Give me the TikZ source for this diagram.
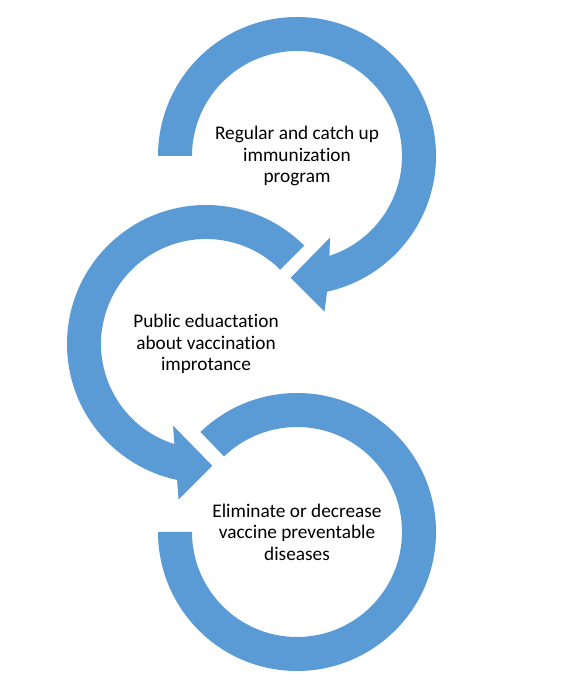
\documentclass[tikz,border=0pt]{standalone}
\usepackage{fontspec}
\setmainfont{Carlito}[Ligatures=NoCommon]
\usepackage{tikz}
\usetikzlibrary{calc}
\definecolor{ringblue}{HTML}{5B9BD5}
\tikzset{
  ring/.style={fill=ringblue, draw=none},
  ringtext/.style={font=\fontsize{19.3}{21.5}\selectfont, align=center, text=black}
}

\begin{document}
\begin{tikzpicture}[x=1pt,y=1pt]
    \useasboundingbox (0,0) rectangle (576,674);

    % Circle 1
    \coordinate (c1) at (297,518);
    \fill[ring] ($(c1)+(180:139)$) arc[start angle=180, end angle=-77.5, radius=139]
        -- ($(c1)+(-80:158)$) -- ($(c1)+(-93:122)$) -- ($(c1)+(-68:88)$)
        -- ($(c1)+(-72:105)$) arc[start angle=-72, end angle=180, radius=105] -- cycle;
    \node[ringtext] (t1) at (c1) {Regular and catch up\\immunization\\program};

    % Circle 2
    \coordinate (c2) at (206,330);
    \fill[ring] ($(c2)+(45:139)$) arc[start angle=45, end angle=258, radius=139]
        -- ($(c2)+(260:158)$) -- ($(c2)+(273:122)$) -- ($(c2)+(248:88)$)
        -- ($(c2)+(252.5:105)$) arc[start angle=252.5, end angle=45, radius=105] -- cycle;
    \node[ringtext] (t2) at (c2) {Public eduactation\\about vaccination\\improtance};

    % Circle 3
    \coordinate (c3) at (297,142);
    \fill[ring] ($(c3)+(134:139)$) arc[start angle=134, end angle=-180, radius=139]
        -- ($(c3)+(180:105)$) arc[start angle=-180, end angle=134, radius=105] -- cycle;
    \node[ringtext] (t3) at (c3) {Eliminate or decrease\\vaccine preventable\\diseases};

\end{tikzpicture}
\end{document}
